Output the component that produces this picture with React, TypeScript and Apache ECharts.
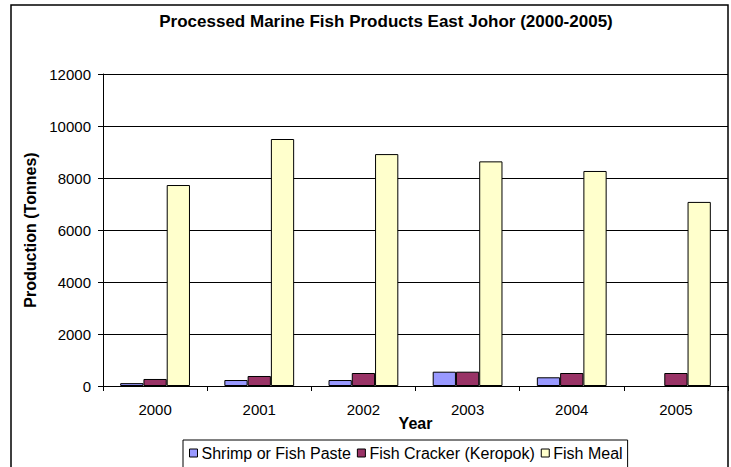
import React, { useEffect, useRef } from "react";
import * as echarts from "echarts";

const years = ["2000", "2001", "2002", "2003", "2004", "2005"];
const shrimpPaste = [110, 230, 230, 550, 335, 0];
const fishCracker = [270, 385, 500, 550, 500, 500];
const fishMeal = [7730, 9500, 8920, 8640, 8270, 7080];
const seriesNames = ["Shrimp or Fish Paste", "Fish Cracker (Keropok)", "Fish Meal"];
const seriesColors = ["#9999FF", "#993366", "#FFFFCC"];

const FONT = "'Liberation Sans', Arial, sans-serif";

export default function App() {
  const ref = useRef<HTMLDivElement>(null);
  useEffect(() => {
    if (!ref.current) return;
    const chart = echarts.init(ref.current, null, { renderer: "svg" });
    const data = [shrimpPaste, fishCracker, fishMeal];
    chart.setOption({
      animation: false,
      backgroundColor: "#ffffff",
      title: {
        text: "Processed Marine Fish Products East Johor (2000-2005)",
        left: 381,
        textAlign: "center",
        top: 8,
        textStyle: { fontFamily: FONT, fontSize: 17, fontWeight: "bold", color: "#000" },
      },
      graphic: [
        {
          type: "rect",
          shape: { x: 11, y: 5, width: 717, height: 470 },
          style: { fill: "none", stroke: "#000", lineWidth: 1.5 },
          silent: true,
        },
      ],
      legend: {
        left: 183,
        top: 440,
        padding: [5, 5, 8, 6],
        borderColor: "#000",
        borderWidth: 1,
        itemWidth: 8,
        itemHeight: 8,
        itemGap: 6,
        icon: "rect",
        textStyle: { fontFamily: FONT, fontSize: 16, color: "#000", padding: [0, 0, 0, -1] },
        itemStyle: { borderColor: "#000", borderWidth: 1 },
        data: seriesNames,
      },
      grid: { left: 103, right: 3, top: 74, bottom: 81, containLabel: false },
      xAxis: {
        type: "category",
        data: years,
        name: "Year",
        nameLocation: "middle",
        nameGap: 29,
        nameMoveOverlap: false,
        nameTextStyle: { fontFamily: FONT, fontSize: 16, fontWeight: "bold", color: "#000" },
        axisLine: { lineStyle: { color: "#000", width: 1 } },
        axisTick: { show: true, length: 5, lineStyle: { color: "#000" } },
        axisLabel: { fontFamily: FONT, fontSize: 15, color: "#000", margin: 16 },
        splitLine: { show: false },
      },
      yAxis: {
        type: "value",
        min: 0,
        max: 12000,
        interval: 2000,
        name: "Production (Tonnes)",
        nameLocation: "middle",
        nameGap: 58,
        nameTextStyle: { fontFamily: FONT, fontSize: 16, fontWeight: "bold", color: "#000" },
        axisLine: { show: true, lineStyle: { color: "#000", width: 1 } },
        axisTick: { show: true, length: 5, lineStyle: { color: "#000" } },
        axisLabel: {
          fontFamily: FONT,
          fontSize: 15,
          color: "#000",
          margin: 12,
          formatter: (v: number) => String(v),
        },
        splitLine: { show: true, lineStyle: { color: "#000", width: 1 } },
      },
      series: seriesNames.map((name, i) => ({
        name,
        type: "bar",
        data: data[i].map((v) => (v === 0 ? { value: v, itemStyle: { borderWidth: 0 } } : v)),
        barGap: "0%",
        barCategoryGap: "33%",
        itemStyle: { color: seriesColors[i], borderColor: "#000", borderWidth: 1 },
      })),
    });
    return () => chart.dispose();
  }, []);
  return (
    <div
      ref={ref}
      style={{ position: "fixed", left: 0, top: 0, width: 731, height: 467 }}
    />
  );
}
